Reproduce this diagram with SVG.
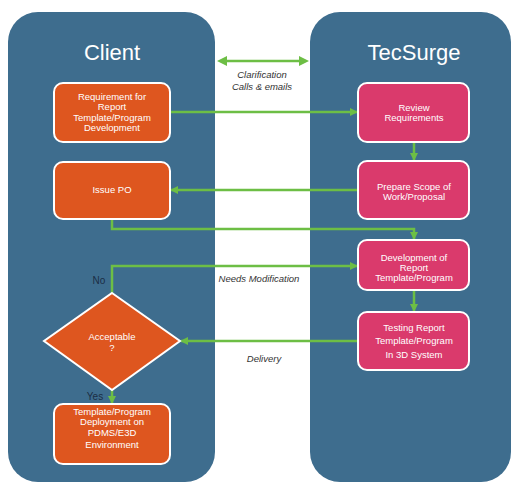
<svg xmlns="http://www.w3.org/2000/svg" width="512" height="483" viewBox="0 0 512 483">
<style>
.panel{fill:#3E6D8E}
.title{font-family:"Liberation Sans",Arial,sans-serif;font-size:22px;fill:#FFFFFF;text-anchor:middle}
.orange{fill:#DE561F;stroke:#FFFFFF;stroke-width:2}
.pink{fill:#DA3A6C;stroke:#FFFFFF;stroke-width:2}
.nt{font-family:"Liberation Sans",Arial,sans-serif;font-size:9.5px;fill:#FFFFFF;text-anchor:middle}
.lbl{font-family:"Liberation Sans",Arial,sans-serif;font-size:9.5px;fill:#333333;font-style:italic;text-anchor:middle}
.dl{font-family:"Liberation Sans",Arial,sans-serif;font-size:10px;fill:#1B2E45;text-anchor:middle}
.ln{fill:none;stroke:#6DBE45;stroke-width:2.5}
</style>
<defs>
<marker id="ah" markerWidth="8" markerHeight="8" refX="7" refY="4" orient="auto" markerUnits="userSpaceOnUse">
<path d="M0,0 L8,4 L0,8 Z" fill="#6DBE45"/>
</marker>
<marker id="ahs" markerWidth="10" markerHeight="10" refX="1" refY="5" orient="auto-start-reverse" markerUnits="userSpaceOnUse">
<path d="M0,0 L10,5 L0,10 Z" fill="#6DBE45"/>
</marker>
</defs>
<rect width="512" height="483" fill="#FFFFFF"/>
<g id="client-panel">
<rect class="panel" x="8" y="12" width="207" height="470" rx="30"/>
<text class="title" x="112" y="60">Client</text>
</g>
<g id="tecsurge-panel">
<rect class="panel" x="310" y="12" width="201" height="470" rx="30"/>
<text class="title" x="414" y="60">TecSurge</text>
</g>
<g id="connectors">
<line class="ln" x1="226" y1="61" x2="300" y2="61" marker-start="url(#ahs)" marker-end="url(#ahs)"/>
<line class="ln" x1="170" y1="112" x2="357" y2="112" marker-end="url(#ah)"/>
<line class="ln" x1="414" y1="142" x2="414" y2="160" marker-end="url(#ah)"/>
<line class="ln" x1="358" y1="190" x2="171" y2="190" marker-end="url(#ah)"/>
<polyline class="ln" points="112,219 112,229 414,229 414,239" marker-end="url(#ah)"/>
<polyline class="ln" points="112,293 112,266 357,266" marker-end="url(#ah)"/>
<line class="ln" x1="414" y1="290" x2="414" y2="311" marker-end="url(#ah)"/>
<line class="ln" x1="358" y1="341" x2="181" y2="341" marker-end="url(#ah)"/>
<line class="ln" x1="112" y1="390" x2="112" y2="403" marker-end="url(#ah)"/>
<text class="lbl" x="262" y="78">Clarification</text>
<text class="lbl" x="262" y="90">Calls &amp; emails</text>
<text class="lbl" x="259" y="282">Needs Modification</text>
<text class="lbl" x="264" y="362">Delivery</text>
<text class="dl" x="99" y="284">No</text>
<text class="dl" x="95" y="400">Yes</text>
</g>
<g id="requirement">
<rect class="orange" x="54" y="83" width="116" height="59" rx="9"/>
<text class="nt" x="112" y="100">Requirement for</text>
<text class="nt" x="112" y="110">Report</text>
<text class="nt" x="112" y="121">Template/Program</text>
<text class="nt" x="112" y="131">Development</text>
</g>
<g id="review">
<rect class="pink" x="358" y="83" width="111" height="59" rx="9"/>
<text class="nt" x="414" y="111">Review</text>
<text class="nt" x="414" y="121">Requirements</text>
</g>
<g id="issue-po">
<rect class="orange" x="54" y="162" width="116" height="57" rx="9"/>
<text class="nt" x="112" y="193">Issue PO</text>
</g>
<g id="prepare-scope">
<rect class="pink" x="358" y="161" width="111" height="58" rx="9"/>
<text class="nt" x="414" y="190">Prepare Scope of</text>
<text class="nt" x="414" y="200">Work/Proposal</text>
</g>
<g id="development">
<rect class="pink" x="358" y="240" width="111" height="50" rx="9"/>
<text class="nt" x="414" y="261">Development of</text>
<text class="nt" x="414" y="271">Report</text>
<text class="nt" x="414" y="281">Template/Program</text>
</g>
<g id="testing">
<rect class="pink" x="358" y="312" width="111" height="58" rx="9"/>
<text class="nt" x="414" y="331">Testing Report</text>
<text class="nt" x="414" y="344">Template/Program</text>
<text class="nt" x="414" y="358">In 3D System</text>
</g>
<g id="acceptable">
<polygon class="orange" points="112,293 180,341 112,390 44,341"/>
<text class="nt" x="112" y="340">Acceptable</text>
<text class="nt" x="112" y="351">?</text>
</g>
<g id="deployment">
<rect class="orange" x="54" y="404" width="116" height="60" rx="9"/>
<text class="nt" x="112" y="415">Template/Program</text>
<text class="nt" x="112" y="425">Deployment on</text>
<text class="nt" x="112" y="436">PDMS/E3D</text>
<text class="nt" x="112" y="448">Environment</text>
</g>
</svg>
